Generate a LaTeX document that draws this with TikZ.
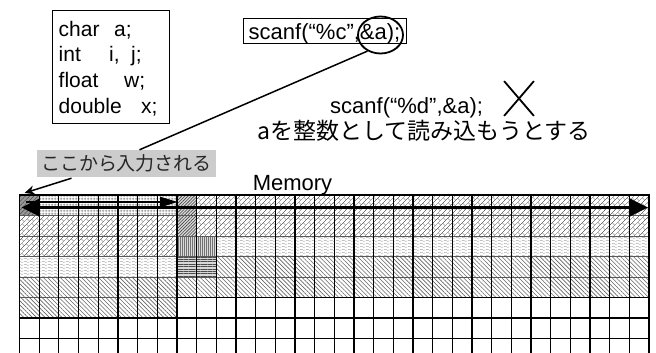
\documentclass[tikz,border=0pt]{standalone}
\usepackage{fontspec}
\setmainfont{Liberation Sans}
\newfontfamily\jp{Noto Sans CJK JP}
\usetikzlibrary{arrows.meta,patterns,patterns.meta,shapes.geometric,shapes.misc}

\tikzdeclarepattern{
  name=diagbrick,
  type=uncolored,
  bounding box={(0pt,0pt) and (7pt,7pt)},
  tile size={(7pt,7pt)},
  tile transformation={rotate=45},
  code={
    \draw[line width=0.45pt] (0pt,1.75pt) -- (7pt,1.75pt);
    \draw[line width=0.45pt] (0pt,5.25pt) -- (7pt,5.25pt);
    \draw[line width=0.45pt] (1.75pt,1.75pt) -- (1.75pt,5.25pt);
    \draw[line width=0.45pt] (5.25pt,5.25pt) -- (5.25pt,7pt);
    \draw[line width=0.45pt] (5.25pt,0pt) -- (5.25pt,1.75pt);
  }
}
\tikzdeclarepattern{
  name=wavy,
  type=uncolored,
  bounding box={(0pt,0pt) and (6pt,3pt)},
  tile size={(6pt,3pt)},
  code={
    \draw[line width=0.45pt] (0pt,1.5pt) sin (1.5pt,2.3pt) cos (3pt,1.5pt) sin (4.5pt,0.7pt) cos (6pt,1.5pt);
  }
}
\tikzdeclarepattern{
  name=finegrid,
  type=uncolored,
  bounding box={(0pt,0pt) and (3pt,3pt)},
  tile size={(3pt,3pt)},
  code={
    \draw[line width=0.45pt] (0pt,1.5pt) -- (3pt,1.5pt);
    \draw[line width=0.45pt] (1.5pt,0pt) -- (1.5pt,3pt);
  }
}

\begin{document}
\begin{tikzpicture}[x=1pt,y=-1pt,
  codeline/.style={anchor=base west,inner sep=0pt,font=\fontsize{21}{25}\selectfont},
  thinbox/.style={draw,line width=0.8pt},
  vline/.style={line width=1.3pt,black},
  hsoft/.style={line width=0.7pt,black!65},
  hhard/.style={line width=1.3pt,black},
  bigarrow/.style={line width=3.5pt,{Triangle[length=18pt,width=17pt]}-{Triangle[length=18pt,width=17pt]}},
  smallarrow/.style={line width=2.5pt,-{Triangle[length=18pt,width=10pt]}}
]
\useasboundingbox (0,0) rectangle (656,353);
\fill[white] (0,0) rectangle (656,353);

% declarations box
\node[thinbox,minimum width=117pt,minimum height=113pt,inner sep=0pt,anchor=north west] (codebox) at (52,10) {};
\node[codeline] (c1) at (58.5,36.7) {\makebox[55.5pt][l]{char}a;};
\node[codeline] (c2) at (58.5,61.7) {\makebox[50.5pt][l]{int}\makebox[22pt][l]{i,}j;};
\node[codeline] (c3) at (58.5,87.7) {\makebox[65.5pt][l]{float}w;};
\node[codeline] (c4) at (58.5,113.3) {\makebox[82.5pt][l]{double}x;};

% scanf box
\node[thinbox,minimum width=163pt,inner xsep=0pt,inner ysep=0pt,text height=22pt,text depth=3pt,
  font=\fontsize{22}{26}\selectfont] (sbox) at (324.5,30.5) {scanf(“\%c”,\&a);};
\node[ellipse,draw,line width=1.8pt,minimum width=45pt,minimum height=37pt,inner sep=0pt] (circ) at (380.5,35) {};

% wrong usage
\node[anchor=base west,inner sep=0pt,font=\fontsize{22}{26}\selectfont] (sd) at (330,113.5) {scanf(“\%d”,\&a);};
\node[cross out,draw,line width=1.8pt,minimum width=28pt,minimum height=33pt,inner sep=0pt] (xm) at (519,98.5) {};
\node[anchor=base,inner sep=0pt,font=\jp\fontsize{23}{27}\selectfont] (jt) at (424,139) {aを整数として読み込もうとする};

% label
\node[fill=black!20,minimum width=179pt,minimum height=27pt,inner sep=0pt,
  font=\jp\fontsize{19}{22}\selectfont,text=black!85] (lbl) at (126.5,163.5) {ここから入力される};
\draw[line width=1.5pt] (circ.231) -- ([xshift=13pt]lbl.north);

\node[anchor=base,inner sep=0pt,font=\fontsize{22}{26}\selectfont] (mem) at (292.5,190) {Memory};

\coordinate (memtl) at (19.5,195);
\draw[line width=1.5pt,-{Stealth[length=10pt,width=9pt]}] ([xshift=-55pt,yshift=-1pt]lbl.south) -- ([xshift=5pt,yshift=2pt]memtl);

% memory grid
\begin{scope}[shift={(19.5,195)},x=19.67pt,y=-20.5pt]
  \fill[black!40] (0,0) rectangle (1,1);
  \fill[pattern={Lines[angle=45,distance=3pt,line width=0.6pt]},pattern color=black!70] (0,0) rectangle (1,1);
  \fill[pattern=finegrid,pattern color=black!60] (1,0) rectangle (8,1);
  \fill[black!15] (8,0) rectangle (9,2);
  \fill[pattern={Lines[angle=45,distance=2.2pt,line width=0.6pt]},pattern color=black!75] (8,0) rectangle (9,2);
  \fill[pattern=diagbrick,pattern color=black!55] (9,0) rectangle (32,2);
  \fill[pattern=diagbrick,pattern color=black!55] (0,1) rectangle (8,3);
  \fill[black!15] (8,2) rectangle (10,3);
  \fill[pattern={Lines[angle=90,distance=2pt,line width=0.5pt]},pattern color=black!55] (8,2) rectangle (10,3);
  \fill[pattern=wavy,pattern color=black!40] (10,2) rectangle (32,3);
  \fill[pattern=wavy,pattern color=black!40] (0,3) rectangle (8,4);
  \fill[black!15] (8,3) rectangle (10,4);
  \fill[pattern={Lines[angle=0,distance=2.4pt,line width=0.6pt]},pattern color=black!70] (8,3) rectangle (10,4);
  \fill[pattern={Lines[angle=-45,distance=3pt,line width=0.6pt]},pattern color=black!60] (10,3) rectangle (32,4);
  \fill[pattern={Lines[angle=-45,distance=3pt,line width=0.6pt]},pattern color=black!60] (0,4) rectangle (32,5);
  \fill[pattern={Lines[angle=-45,distance=3pt,line width=0.6pt]},pattern color=black!60] (0,5) rectangle (8,6);
  % horizontal lines
  \foreach \r in {1,2,3,4} \draw[hsoft] (0,\r) -- (32,\r);
  \draw[hsoft] (0,5) -- (8,5);
  \draw[hhard] (8,5) -- (32,5);
  \draw[hhard] (0,6) -- (32,6);
  \draw[hhard] (0,7) -- (32,7);
  % vertical lines
  \foreach \c in {1,...,31} \draw[vline] (\c,0) -- (\c,7.71);
  \draw[line width=1.8pt] (0,7.71) -- (0,0) -- (32,0) -- (32,7.71);
\end{scope}

% arrows in first row
\coordinate (la) at (21.5,207.5);
\coordinate (lb) at (648,207.5);
\coordinate (sa) at (26,202);
\coordinate (sb) at (178,202);
\draw[smallarrow] (sa) -- (sb);
\draw[bigarrow] (la) -- (lb);
\end{tikzpicture}
\end{document}
